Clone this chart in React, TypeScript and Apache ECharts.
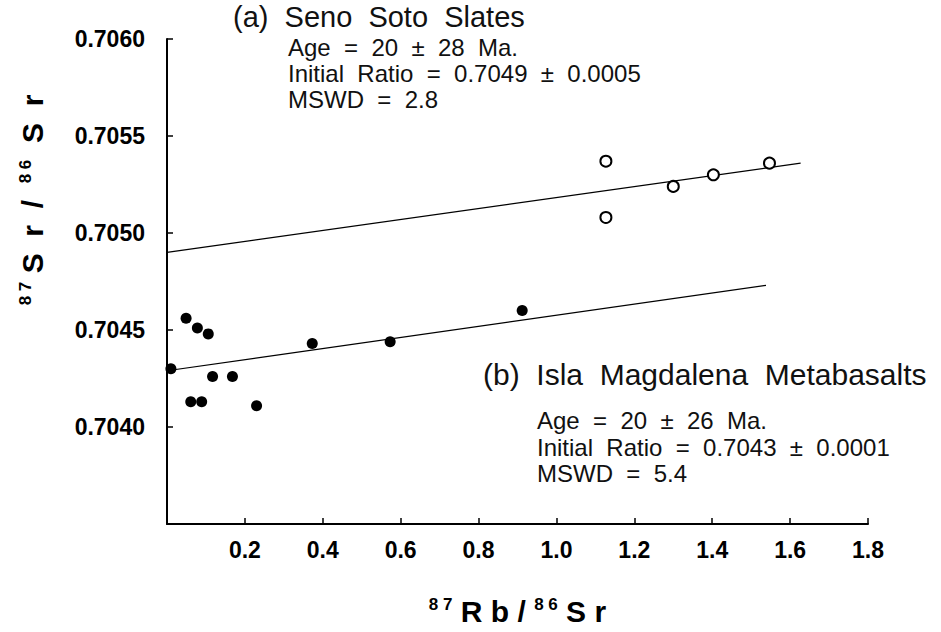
import React, { useEffect, useRef } from "react";
import * as echarts from "echarts";

// (a) Seno Soto Slates — open circles
const rbSlates = [1.127, 1.127, 1.3, 1.403, 1.547];
const srSlates = [0.70537, 0.70508, 0.70524, 0.7053, 0.70536];
// (b) Isla Magdalena Metabasalts — filled circles
const rbBasalts = [0.01, 0.049, 0.078, 0.106, 0.061, 0.089, 0.117, 0.168, 0.23, 0.373, 0.573, 0.912];
const srBasalts = [0.7043, 0.70456, 0.70451, 0.70448, 0.70413, 0.70413, 0.70426, 0.70426, 0.70411, 0.70443, 0.70444, 0.7046];
// isochron lines
const isoSlatesX = [0, 1.627];
const isoSlatesY = [0.7049, 0.70536];
const isoBasaltsX = [0, 1.538];
const isoBasaltsY = [0.70429, 0.70473];
// axis settings
const xMin = 0, xMax = 1.8, xStep = 0.2;
const yMin = 0.7035, yMax = 0.706, yStep = 0.0005;
// annotations
const textSlates = ["(a)  Seno  Soto  Slates", "Age  =  20  ±  28  Ma.", "Initial  Ratio  =  0.7049  ±  0.0005", "MSWD  =  2.8"];
const textBasalts = ["(b)  Isla  Magdalena  Metabasalts", "Age  =  20  ±  26  Ma.", "Initial  Ratio  =  0.7043  ±  0.0001", "MSWD  =  5.4"];

const FONT = '"Liberation Sans", Arial, Helvetica, sans-serif';
const INK = "#000";

function zip(xs: number[], ys: number[]) {
  return xs.map((x, i) => [x, ys[i]]);
}

function txt(text: string, x: number, y: number, size: number, lh: number) {
  return {
    type: "text",
    x,
    y,
    style: {
      text,
      fontSize: size,
      lineHeight: lh,
      fontFamily: FONT,
      fill: "#111",
      textAlign: "left",
      align: "left",
      textVerticalAlign: "middle",
      verticalAlign: "middle",
    },
  };
}

export default function App() {
  const ref = useRef<HTMLDivElement>(null);
  useEffect(() => {
    if (!ref.current) return;
    const chart = echarts.init(ref.current, null, { renderer: "svg" });
    const richAxis = (big: number, sup: number) => ({
      big: { fontSize: big, fontWeight: "bold", fontFamily: FONT, color: INK },
      sup: { fontSize: sup, fontWeight: "bold", fontFamily: FONT, color: INK, verticalAlign: "top" },
    });
    chart.setOption({
      animation: false,
      backgroundColor: "#fff",
      grid: { left: 167, right: 73, top: 39, bottom: 108, containLabel: false },
      xAxis: {
        type: "value",
        min: xMin,
        max: xMax,
        interval: xStep,
        splitLine: { show: false },
        axisLine: { lineStyle: { color: INK, width: 2 } },
        axisTick: { inside: true, length: 6, lineStyle: { color: INK, width: 1.5 } },
        axisLabel: {
          showMinLabel: false,
          formatter: (v: number) => v.toFixed(1),
          fontSize: 23,
          fontWeight: "bold",
          fontFamily: FONT,
          color: INK,
          margin: 14,
        },
        name: "{sup|8 7}{big| R b / }{sup|8 6}{big| S r}",
        nameLocation: "middle",
        nameGap: 72,
        nameTextStyle: { rich: richAxis(30, 17) },
      },
      yAxis: {
        type: "value",
        min: yMin,
        max: yMax,
        interval: yStep,
        splitLine: { show: false },
        axisLine: { lineStyle: { color: INK, width: 2 } },
        axisTick: { inside: true, length: 6, lineStyle: { color: INK, width: 1.5 } },
        axisLabel: {
          showMinLabel: false,
          formatter: (v: number) => v.toFixed(4),
          fontSize: 23,
          fontWeight: "bold",
          fontFamily: FONT,
          color: INK,
          margin: 22,
        },
      },
      graphic: [
        {
          type: "text",
          x: 32,
          y: 200,
          rotation: Math.PI / 2,
          style: {
            text: "{sup|8 7}{big| S  r  /  }{sup|8 6}{big|  S  r}",
            rich: richAxis(30, 17),
            textAlign: "center",
            align: "center",
            textVerticalAlign: "middle",
            verticalAlign: "middle",
          },
        },
        txt(textSlates[0], 233, 17, 29, 26),
        txt(textSlates[1], 288, 47, 24, 22),
        txt(textSlates[2], 288, 73, 24, 22),
        txt(textSlates[3], 288, 99, 24, 22),
        txt(textBasalts[0], 483, 374, 30, 26),
        txt(textBasalts[1], 537, 420, 24, 22),
        txt(textBasalts[2], 537, 447, 24, 22),
        txt(textBasalts[3], 537, 473, 24, 22),
      ],
      series: [
        {
          type: "line",
          data: zip(isoSlatesX, isoSlatesY),
          showSymbol: false,
          lineStyle: { color: INK, width: 1.2 },
          silent: true,
        },
        {
          type: "line",
          data: zip(isoBasaltsX, isoBasaltsY),
          showSymbol: false,
          lineStyle: { color: INK, width: 1.2 },
          silent: true,
        },
        {
          type: "scatter",
          data: zip(rbSlates, srSlates),
          symbol: "circle",
          symbolSize: 11,
          itemStyle: { color: "#fff", borderColor: INK, borderWidth: 2, opacity: 1 },
          z: 3,
        },
        {
          type: "scatter",
          data: zip(rbBasalts, srBasalts),
          symbol: "circle",
          symbolSize: 11,
          itemStyle: { color: INK, opacity: 1 },
          z: 3,
        },
      ],
    });
    return () => chart.dispose();
  }, []);
  return (
    <div
      ref={ref}
      style={{ position: "fixed", left: 0, top: 0, width: 941, height: 632, background: "#fff" }}
    />
  );
}
